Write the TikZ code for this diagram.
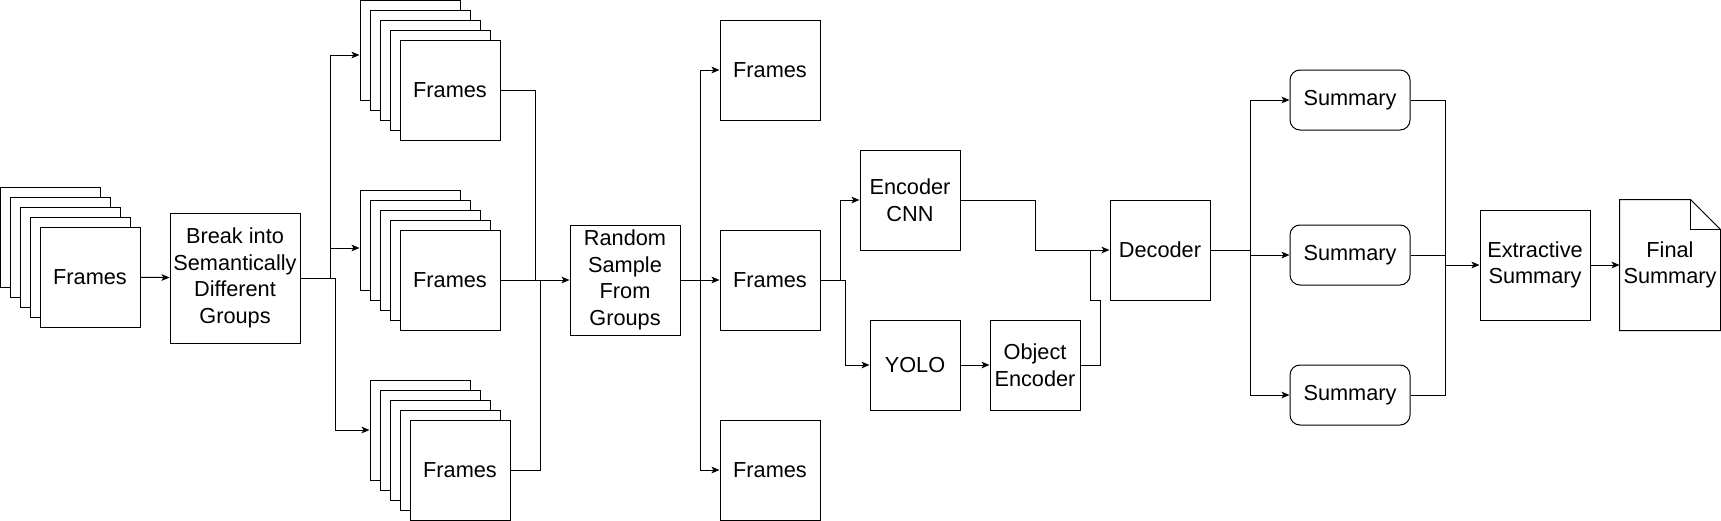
\documentclass[tikz,border=0pt]{standalone}
\usepackage{fontspec}
\setmainfont{Liberation Sans}
\usetikzlibrary{arrows.meta,calc}

\tikzset{every picture/.style={line width=0.75pt}}
\tikzset{
  blk/.style={draw, fill=white, inner sep=0pt, align=center, font=\fontsize{16.3}{20}\selectfont},
  frm/.style={blk, minimum width=75pt, minimum height=75pt},
  smry/.style={blk, rounded corners=7.5pt, minimum width=90pt, minimum height=45pt},
  arr/.style={-{Stealth[length=6pt,width=5pt,inset=1.5pt]}},
}

\begin{document}
\begin{tikzpicture}[x=0.75pt,y=0.75pt,yscale=-1,xscale=1]
	\useasboundingbox (0,0) rectangle (1721,521);

	% input frames (stack)
	\node[frm] (inD) at (50,237) {};
	\node[frm] (inC) at (60,247) {};
	\node[frm] (inB) at (70,257) {};
	\node[frm] (inA) at (80,267) {};
	\node[frm] (inF) at (90,277) {Frames};
	% Break into groups
	\node[blk, minimum width=97.5pt, minimum height=97.5pt] (brk) at (235,278) {Break into\\Semantically\\Different\\Groups};

	% top group
	\node[frm] (topD) at (410,50) {};
	\node[frm] (topC) at (420,60) {};
	\node[frm] (topB) at (430,70) {};
	\node[frm] (topA) at (440,80) {};
	\node[frm] (topF) at (450,90) {Frames};
	% middle group
	\node[frm] (midD) at (410,240) {};
	\node[frm] (midC) at (420,250) {};
	\node[frm] (midB) at (430,260) {};
	\node[frm] (midA) at (440,270) {};
	\node[frm] (midF) at (450,280) {Frames};
	% bottom group
	\node[frm] (botD) at (420,430) {};
	\node[frm] (botC) at (430,440) {};
	\node[frm] (botB) at (440,450) {};
	\node[frm] (botA) at (450,460) {};
	\node[frm] (botF) at (460,470) {Frames};

	% sampling
	\node[blk, minimum width=82.5pt, minimum height=82.5pt] (rnd) at (625,280) {Random\\Sample\\From\\Groups};
	\node[frm] (frA) at (770,70) {Frames};
	\node[frm] (frB) at (770,280) {Frames};
	\node[frm] (frC) at (770,470) {Frames};

	% encoders
	\node[frm] (enc) at (910,200) {Encoder\\CNN};
	\node[blk, minimum width=67.5pt, minimum height=67.5pt] (yolo) at (915,365) {YOLO};
	\node[blk, minimum width=67.5pt, minimum height=67.5pt] (obj) at (1035,365) {Object\\Encoder};
	\node[frm] (dec) at (1160,250) {Decoder};

	% summaries
	\node[smry] (sumA) at (1350,100) {Summary};
	\node[smry] (sumB) at (1350,255) {Summary};
	\node[smry] (sumC) at (1350,395) {Summary};
	\node[blk, minimum width=82.5pt, minimum height=82.5pt] (ext) at (1535,265) {Extractive\\Summary};
	\node[blk, draw=none, fill=none, minimum width=75pt, minimum height=97.5pt] (fin) at (1670,265) {Final\\Summary};
	\draw (fin.south west) -- (fin.north west) -- ($(fin.north east)+(-30,0)$) -- ($(fin.north east)+(0,30)$) -- (fin.south east) -- cycle;
	\draw ($(fin.north east)+(-30,0)$) |- ($(fin.north east)+(0,30)$);
	\draw [line width=0.4pt] ($(fin.north east)+(-30,0)$) -- ($(fin.north east)+(0,30)$);

	% junction points
	\coordinate (splitA) at (330,278);
	\coordinate (splitB) at (335,278);
	\coordinate (joinA) at (535,280);
	\coordinate (joinB) at (540,280);
	\coordinate (fork) at (700,280);
	\coordinate (forkE) at (840,280);
	\coordinate (forkY) at (845,280);
	\coordinate (mergeA) at (1035,250);
	\coordinate (mergeB) at (1090,250);
	\coordinate (bendB) at (1100,300);
	\coordinate (forkS) at (1250,250);
	\coordinate (joinS) at (1445,265);

	% connectors
	\draw[arr] (inF) -- (brk);
	\draw (brk.east) -- (splitB);
	\draw[arr] (splitA) |- ($(topD.west)+(0,5)$);
	\draw[arr] (splitA) |- ($(midD.west)+(0,8)$);
	\draw[arr] (splitB) |- (botD.west);
	\draw (topF.east) -| (joinA);
	\draw (botF.east) -| (joinB);
	\draw[arr] (midF.east) -- (rnd.west);
	\draw (rnd.east) -- (fork);
	\draw[arr] (fork) |- (frA.west);
	\draw[arr] (fork) -- (frB.west);
	\draw[arr] (fork) |- (frC.west);
	\draw (frB.east) -- (forkY);
	\draw[arr] (forkE) |- (enc.west);
	\draw[arr] (forkY) |- (yolo.west);
	\draw[arr] (yolo) -- (obj);
	\draw[arr] (enc.east) -| (mergeA) -- (dec.west);
	\draw (obj.east) -| (bendB) -| (mergeB);
	\draw (dec.east) -- (forkS);
	\draw[arr] (forkS) |- (sumA.west);
	\draw[arr] (forkS) |- (sumB.west);
	\draw[arr] (forkS) |- (sumC.west);
	\draw (sumA.east) -| (joinS);
	\draw (sumC.east) -| (joinS);
	\draw (sumB.east) -- (sumB.east -| joinS);
	\draw[arr] (joinS) -- (ext.west);
	\draw[arr] (ext) -- (fin);

\end{tikzpicture}
\end{document}
